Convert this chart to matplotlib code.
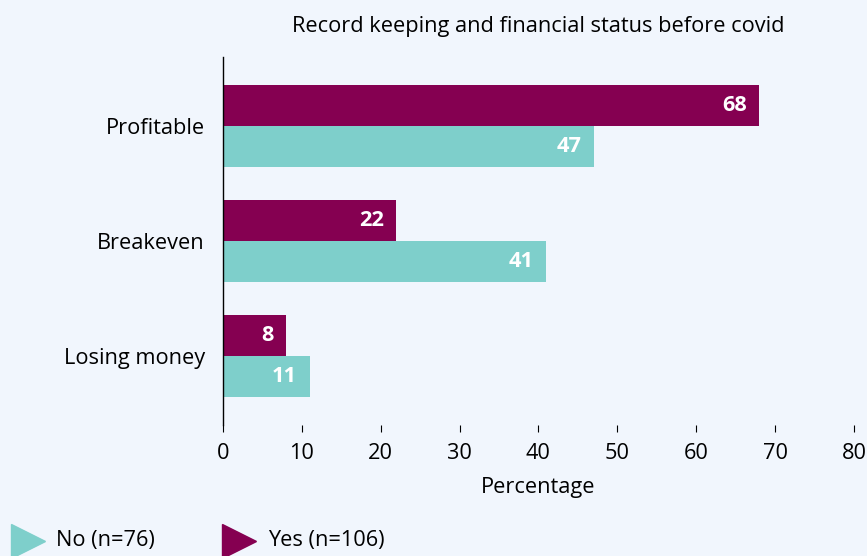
import numpy as np
import matplotlib.pyplot as plt
from matplotlib.lines import Line2D

plt.rcParams['font.family'] = ['Open Sans', 'DejaVu Sans']

categories = ['Profitable', 'Breakeven', 'Losing money']
yes_vals = [68, 22, 8]
no_vals = [47, 41, 11]
yes_label = 'Yes (n=106)'
no_label = 'No (n=76)'
title = 'Record keeping and financial status before covid'

bg = '#F1F6FD'
purple = '#850051'
teal = '#7ECFCB'
fs = 15.7

fig = plt.figure(figsize=(8.67, 5.56), dpi=100, facecolor=bg)
ax = fig.add_axes([0.257, 0.2356, 0.728, 0.662])
ax.set_facecolor(bg)

y = np.arange(len(categories))
h = 0.355
b1 = ax.barh(y - h / 2, yes_vals, height=h, color=purple)
b2 = ax.barh(y + h / 2, no_vals, height=h, color=teal)

for bars in (b1, b2):
    for rect in bars:
        w = rect.get_width()
        ax.annotate(str(int(w)), (w, rect.get_y() + rect.get_height() / 2),
                    xytext=(-9, 0), textcoords='offset points',
                    ha='right', va='center', color='white',
                    fontsize=fs, fontweight='bold')

ax.set_xlim(0, 80)
ax.set_ylim(2.6, -0.6)
ax.set_xticks(np.arange(0, 81, 10))
ax.set_yticks(y)
ax.set_yticklabels(categories)
ax.tick_params(axis='y', length=0, pad=13, labelsize=fs)
ax.tick_params(axis='x', length=5, width=0.8, pad=8, labelsize=fs)
for s in ['top', 'right', 'bottom']:
    ax.spines[s].set_visible(False)
ax.spines['left'].set_linewidth(1)
ax.set_xlabel('Percentage', fontsize=fs, labelpad=9)
ax.set_title(title, fontsize=fs, pad=18)

# legend drawn by hand, in figure coordinates
for xm, xt, c, lab in [(28, 56, teal, no_label), (239, 268, purple, yes_label)]:
    fig.add_artist(Line2D([xm / 867], [0.027], marker='>', color=c, linestyle='none',
                          markersize=25, transform=fig.transFigure))
    fig.text(xt / 867, 0.027, lab, fontsize=fs, ha='left', va='center')

fig.savefig('out.png', dpi=100, facecolor=bg)
